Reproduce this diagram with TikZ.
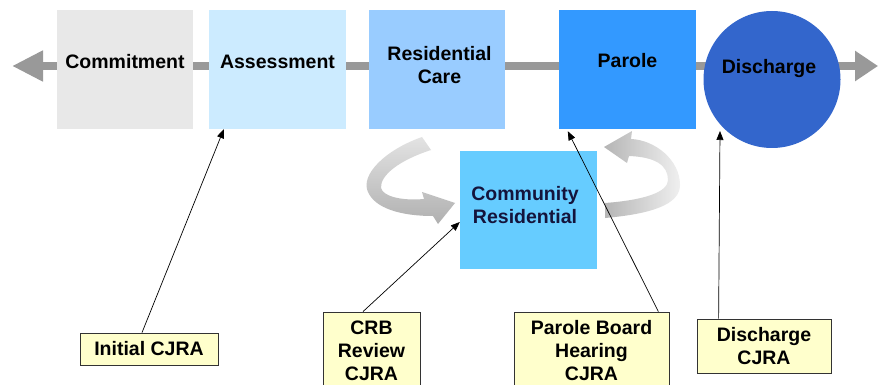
\documentclass[tikz,border=0pt]{standalone}
\usepackage{fontspec}
\setmainfont{Liberation Sans}
\usetikzlibrary{arrows.meta,shapes.geometric}

\definecolor{commitfill}{HTML}{E8E8E8}
\definecolor{assessfill}{HTML}{CCEBFF}
\definecolor{resfill}{HTML}{99CCFF}
\definecolor{parolefill}{HTML}{3399FF}
\definecolor{dischargefill}{HTML}{3366CC}
\definecolor{communityfill}{HTML}{66CCFF}
\definecolor{notefill}{HTML}{FFFFCC}
\definecolor{flowgray}{HTML}{999999}
\definecolor{navytext}{HTML}{14143C}

\begin{document}
\begin{tikzpicture}[x=1pt,y=-1pt,
  stage/.style={rectangle, draw=none, minimum width=136pt, minimum height=119pt, inner sep=0pt},
  stagetext/.style={font=\bfseries\fontsize{19.5}{23}\selectfont, align=center, text=black},
  note/.style={rectangle, draw=black!80, line width=0.8pt, fill=notefill, inner sep=0pt,
    align=center, font=\bfseries\fontsize{19.5}{23}\selectfont},
  pointer/.style={draw=black, line width=0.7pt, -{Triangle[length=9pt,width=7pt]}},
  flowline/.style={draw=flowgray, line width=8pt,
    {Triangle[length=31pt,width=29pt]}-{Triangle[length=23pt,width=29pt]}},
  loopshade/.style={draw=none}
]
\useasboundingbox (0,0) rectangle (878,385);
\clip (0,0) rectangle (878,385);
\fill[white] (0,0) rectangle (878,385);

% main time line behind the stages
\coordinate (leftend) at (12,66);
\coordinate (rightend) at (878,66);
\draw[flowline] (leftend) -- (rightend);

% stages
\node[stage, fill=commitfill,
  label={[stagetext, yshift=8pt]center:Commitment}] (commit) at (125,69.5) {};
\node[stage, fill=assessfill, minimum width=137pt,
  label={[stagetext, yshift=8pt]center:Assessment}] (assess) at (277.5,69.5) {};
\node[stage, fill=resfill,
  label={[stagetext, xshift=2.5pt, yshift=4.5pt]center:Residential\\Care}] (rescare) at (437,69.5) {};
\node[stage, fill=parolefill, minimum width=137pt,
  label={[stagetext, yshift=8.5pt]center:Parole}] (parole) at (627.5,69.5) {};
\node[circle, fill=dischargefill, minimum size=137pt, inner sep=0pt,
  label={[stagetext, xshift=-3pt, yshift=10.6pt]center:Discharge}] (disc) at (772,79.5) {};
\node[stage, fill=communityfill, minimum width=137pt, minimum height=118pt,
  label={[stagetext, text=navytext, xshift=-3.5pt, yshift=4.5pt]center:Community\\Residential}] (commres) at (528.5,210) {};

% loop arrows around the community stage
\shade[loopshade, top color=gray!22, bottom color=gray!62]
  (422,137) .. controls (385,150) and (360,175) .. (368,192)
  .. controls (375,208) and (400,216) .. (433,216)
  -- (438,224) -- (455,203) -- (422,192) -- (424,199)
  .. controls (400,201) and (383,196) .. (381,188)
  .. controls (380,175) and (400,160) .. (431,150) -- cycle;
\shade[loopshade, left color=gray!58, right color=gray!12]
  (604,147) -- (632,131) -- (631,139)
  .. controls (655,140) and (680,160) .. (680,185)
  .. controls (680,205) and (650,214) .. (605,218)
  -- (605,203)
  .. controls (645,200) and (668,192) .. (668,180)
  .. controls (668,165) and (655,157) .. (629,156)
  -- (627,163) -- cycle;

% assessment notes
\node[note, minimum width=138pt, minimum height=32pt] (initial) at (149,349) {Initial CJRA};
\node[note, minimum width=97pt, minimum height=78pt] (crb) at (371.5,351) {CRB\\Review\\CJRA};
\node[note, minimum width=155pt, minimum height=78pt] (pbh) at (591.5,351) {Parole Board\\Hearing\\CJRA};
\node[note, minimum width=134pt, minimum height=54pt] (dcjra) at (764,346) {Discharge\\CJRA};

% pointers from notes to stages
\draw[pointer] ([xshift=-7pt]initial.north) -- ([xshift=15pt]assess.south west);
\draw[pointer] ([xshift=-8.5pt]crb.north) -- ([yshift=-12pt]commres.west);
\draw[pointer] ([xshift=-11pt]pbh.north east) -- ([xshift=9pt,yshift=-2pt]parole.south west);
\draw[pointer] ([xshift=22pt]dcjra.north west) -- ([xshift=-52pt,yshift=-51.5pt]disc.center);
\end{tikzpicture}
\end{document}
